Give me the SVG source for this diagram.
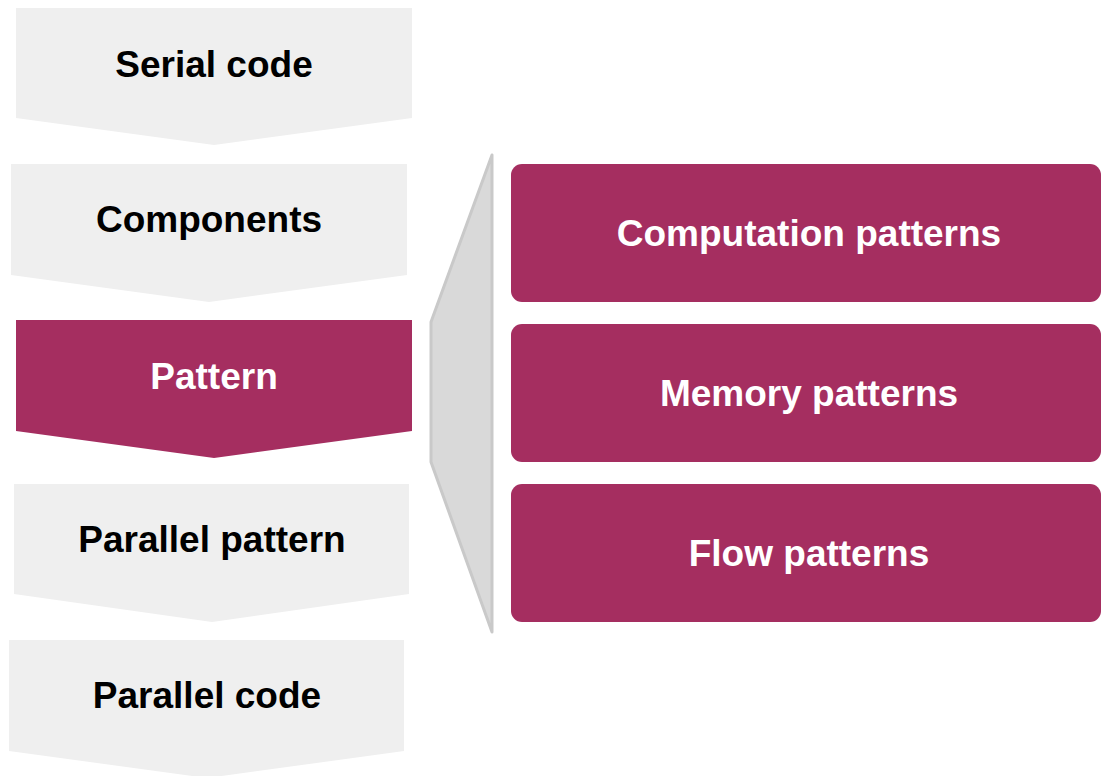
<svg xmlns="http://www.w3.org/2000/svg" width="1101" height="776" viewBox="0 0 1101 776">
<style>
.light{fill:#efefef}
.dark{fill:#a52e60}
.lbl{font-family:"Liberation Sans",Arial,sans-serif;font-weight:bold;font-size:37px;text-anchor:middle}
.blk{fill:#000000}
.wht{fill:#ffffff}
.bracket{fill:#d9d9d9;stroke:#c9c9c9;stroke-width:3;stroke-linejoin:round}
</style>
<rect width="1101" height="776" fill="#ffffff"/>
<g id="serial-code">
<polygon class="light" points="16,8 412,8 412,118 214,145 16,118"/>
<text class="lbl blk" x="214" y="77">Serial code</text>
</g>
<g id="components">
<polygon class="light" points="11,164 407,164 407,275 209,302 11,275"/>
<text class="lbl blk" x="209" y="232">Components</text>
</g>
<g id="pattern">
<polygon class="dark" points="16,320 412,320 412,431 214,458 16,431"/>
<text class="lbl wht" x="214" y="389">Pattern</text>
</g>
<g id="parallel-pattern">
<polygon class="light" points="14,484 409,484 409,594 212,622 14,594"/>
<text class="lbl blk" x="212" y="552">Parallel pattern</text>
</g>
<g id="parallel-code">
<polygon class="light" points="9,640 404,640 404,751 207,778 9,751"/>
<text class="lbl blk" x="207" y="708">Parallel code</text>
</g>
<g id="connectors">
<polygon class="bracket" points="492,155 492,632 431,462 431,322"/>
</g>
<g id="computation-patterns">
<rect class="dark" x="511" y="164" width="590" height="138" rx="11"/>
<text class="lbl wht" x="809" y="246">Computation patterns</text>
</g>
<g id="memory-patterns">
<rect class="dark" x="511" y="324" width="590" height="138" rx="11"/>
<text class="lbl wht" x="809" y="406">Memory patterns</text>
</g>
<g id="flow-patterns">
<rect class="dark" x="511" y="484" width="590" height="138" rx="11"/>
<text class="lbl wht" x="809" y="566">Flow patterns</text>
</g>
</svg>
